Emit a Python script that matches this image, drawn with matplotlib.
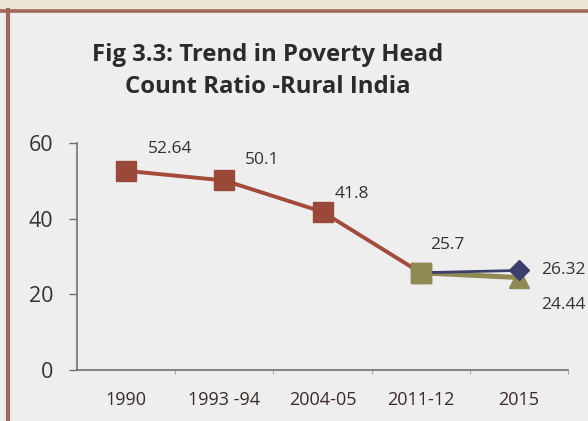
import matplotlib
matplotlib.use("Agg")
import matplotlib.pyplot as plt
from matplotlib.patches import Rectangle
from matplotlib.lines import Line2D

categories = ["1990", "1993 -94", "2004-05", "2011-12", "2015"]
rural_hcr = [52.64, 50.1, 41.8, 25.7]
proj_a = [25.7, 26.32]   # diamond series
proj_b = [25.7, 24.44]   # triangle series
yticks = [0, 20, 40, 60]

title = "Fig 3.3: Trend in Poverty Head\nCount Ratio -Rural India"

plt.rcParams['font.family'] = ['Open Sans', 'DejaVu Sans']

fig = plt.figure(figsize=(5.88, 4.21), dpi=100)
fig.patch.set_facecolor("#efeeee")

# beige strip and brown frame lines
fig.add_artist(Rectangle((0, 1 - 10/421), 1, 10/421, transform=fig.transFigure,
                         facecolor="#ece6d4", edgecolor="none", zorder=0))
fig.add_artist(Line2D([0, 1], [1 - 11/421, 1 - 11/421], transform=fig.transFigure,
                      color="#a4675b", lw=2.6))
fig.add_artist(Line2D([8/588, 8/588], [0, 1 - 10/421], transform=fig.transFigure,
                      color="#a4675b", lw=3.0))

ax = fig.add_axes([77/588, 51/421, 491/588, 227/421])
ax.set_facecolor("none")

x_main = list(range(len(rural_hcr)))
x_proj = [3, 4]

red = "#a44a3a"
olive = "#8e8a52"
navy = "#3c3f6c"

ax.plot(x_proj, proj_b, color=olive, lw=3.6, marker="^", markersize=14,
        markevery=[1], zorder=3)
ax.plot(x_proj, proj_a, color=navy, lw=2.0, marker="D", markersize=10,
        markevery=[1], zorder=4)
ax.plot(x_main, rural_hcr, color=red, lw=2.8, marker="s", markersize=15,
        markeredgecolor="#9a4838", markerfacecolor="#9a4838", zorder=2)
ax.plot([3], [rural_hcr[3]], marker="s", markersize=15, color=olive,
        linestyle="none", zorder=5)

ax.set_xlim(-0.5, 4.5)
ax.set_ylim(0, 60)
ax.set_yticks(yticks)
ax.set_yticklabels([str(v) for v in yticks], fontsize=15.5, color="#333333")
ax.set_xticks(range(len(categories)))
ax.set_xticklabels(categories, fontsize=13, color="#3a2a2a")
ax.set_xticks([i + 0.5 for i in range(len(categories))], minor=True)

ax.tick_params(axis="y", length=6, width=1, color="#7a6e6e", pad=11)
ax.tick_params(axis="x", which="major", length=0, pad=15)
ax.tick_params(axis="x", which="minor", length=3, width=0.8, color="#aaaaaa")

for s in ["top", "right"]:
    ax.spines[s].set_visible(False)
for s in ["left", "bottom"]:
    ax.spines[s].set_color("#7a6e6e")
    ax.spines[s].set_linewidth(1.2)

lab_kw = dict(textcoords="offset points", fontsize=12.5, color="#333333")
offsets = [(32, 16), (27, 15), (21, 13), (19, 20)]
for i, v in enumerate(rural_hcr):
    ax.annotate(f"{v:g}", (i, v), xytext=offsets[i], ha="center", va="center", **lab_kw)
ax.annotate(f"{proj_a[1]:g}", (4, proj_a[1]), xytext=(16, 0), ha="left",
            va="center", annotation_clip=False, **lab_kw)
ax.annotate(f"{proj_b[1]:g}", (4, proj_b[1]), xytext=(16, -20), ha="left",
            va="center", annotation_clip=False, **lab_kw)

fig.text(268/588, 1 - 71/421, title, ha="center", va="center", fontsize=17.2,
         fontweight="bold", color="#2b2b2b", linespacing=1.45)

fig.savefig("out.png", dpi=100, facecolor=fig.get_facecolor())
